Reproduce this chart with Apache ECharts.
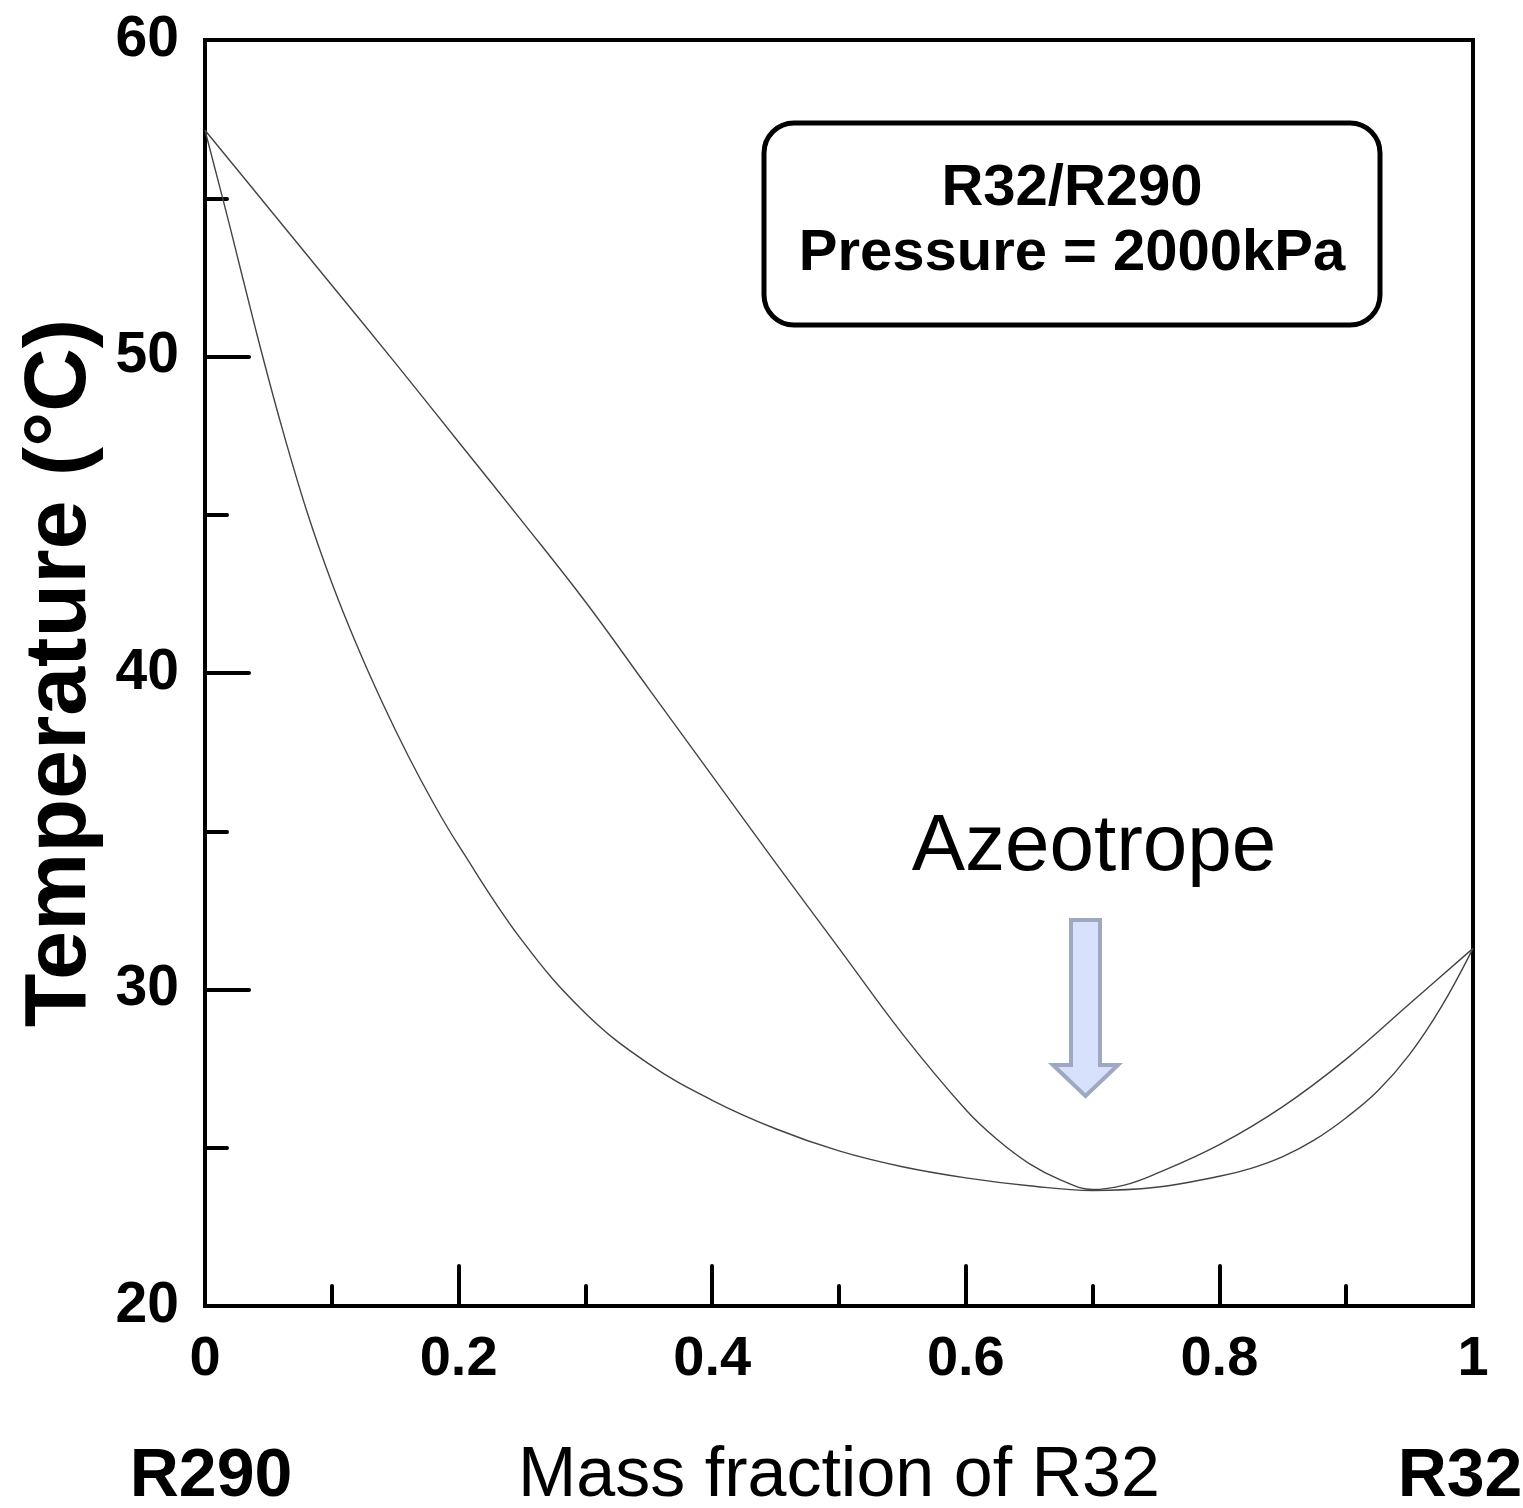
<!DOCTYPE html>
<html>
<head>
<meta charset="utf-8">
<script src="https://cdn.jsdelivr.net/npm/echarts@6/dist/echarts.min.js"></script>
<style>
  html, body { margin: 0; padding: 0; background: #fff; overflow: hidden; }
  #chart { width: 1523px; height: 1508px; }
</style>
</head>
<body>
<div id="chart"></div>
<script>
// ---- Data ----
// Dew curve (upper line): mass fraction of R32 vs temperature (°C)
const dewX = [0, 0.05, 0.1, 0.15, 0.2, 0.25, 0.3, 0.35, 0.4, 0.45, 0.5, 0.55, 0.6, 0.625, 0.65, 0.675, 0.7, 0.725, 0.75, 0.8, 0.85, 0.9, 0.95, 1.0];
const dewT = [57.15, 54.7, 52.25, 49.8, 47.3, 44.8, 42.25, 39.5, 36.75, 34.0, 31.3, 28.6, 26.2, 25.25, 24.5, 23.98, 23.68, 23.82, 24.18, 25.1, 26.3, 27.8, 29.55, 31.3];

// Bubble curve (lower line)
const bubbleX = [0, 0.02, 0.04, 0.06, 0.08, 0.1, 0.12, 0.14, 0.16, 0.18, 0.2, 0.25, 0.3, 0.35, 0.4, 0.45, 0.5, 0.55, 0.6, 0.65, 0.7, 0.75, 0.8, 0.825, 0.85, 0.875, 0.9, 0.925, 0.95, 0.975, 1.0];
const bubbleT = [57.15, 54.05, 50.85, 47.85, 45.15, 42.85, 40.85, 39.05, 37.4, 35.9, 34.55, 31.55, 29.25, 27.65, 26.5, 25.6, 24.9, 24.4, 24.05, 23.8, 23.65, 23.75, 24.1, 24.35, 24.72, 25.25, 25.95, 26.8, 27.95, 29.45, 31.3];

// Axis settings / text
const xMin = 0, xMax = 1, xStep = 0.2;
const yMin = 20, yMax = 60, yStep = 10;
const xTitle = 'Mass fraction of R32';
const yTitle = 'Temperature (°C)';
const leftEndLabel = 'R290';
const rightEndLabel = 'R32';
const boxLines = ['R32/R290', 'Pressure = 2000kPa'];
const annotationText = 'Azeotrope';

const FONT = '"Liberation Sans", Arial, Helvetica, sans-serif';

function pairs(xs, ys) { return xs.map((x, i) => [x, ys[i]]); }

const chart = echarts.init(document.getElementById('chart'), null, { renderer: 'canvas' });

const option = {
  backgroundColor: '#ffffff',
  animation: false,
  grid: {
    left: 205, right: 50, top: 40, bottom: 202,
    outerBoundsMode: 'none', containLabel: false,
    show: true, borderColor: '#000', borderWidth: 4, backgroundColor: 'transparent'
  },
  xAxis: {
    type: 'value', min: xMin, max: xMax, interval: xStep,
    name: xTitle, nameLocation: 'middle', nameGap: 136,
    nameTextStyle: { fontFamily: FONT, fontSize: 70, color: '#000', fontWeight: 'normal' },
    axisLine: { show: true, lineStyle: { color: '#000', width: 4 } },
    axisTick: { show: true, inside: true, length: 40, lineStyle: { color: '#000', width: 4, cap: 'round' } },
    minorTick: { show: true, splitNumber: 2, length: 20, lineStyle: { color: '#000', width: 4, cap: 'round' } },
    splitLine: { show: false },
    axisLabel: { fontFamily: FONT, fontSize: 56, fontWeight: 'bold', color: '#000', margin: 26,
      formatter: v => (v === 0 ? '0' : v === 1 ? '1' : String(Math.round(v * 10) / 10)) }
  },
  yAxis: {
    type: 'value', min: yMin, max: yMax, interval: yStep,
    name: yTitle, nameLocation: 'middle', nameGap: 97, nameRotate: 90,
    nameTextStyle: { fontFamily: FONT, fontSize: 88, color: '#000', fontWeight: 'bold' },
    axisLine: { show: true, lineStyle: { color: '#000', width: 4 } },
    axisTick: { show: true, inside: true, length: 44, lineStyle: { color: '#000', width: 4, cap: 'round' } },
    minorTick: { show: true, splitNumber: 2, length: 22, lineStyle: { color: '#000', width: 4, cap: 'round' } },
    splitLine: { show: false },
    axisLabel: { fontFamily: FONT, fontSize: 57, fontWeight: 'bold', color: '#000', margin: 26 }
  },
  series: [
    {
      name: 'Dew', type: 'line', data: pairs(dewX, dewT),
      smooth: 0.4, showSymbol: false, symbol: 'none',
      lineStyle: { color: '#444', width: 1.4 }, z: 3
    },
    {
      name: 'Bubble', type: 'line', data: pairs(bubbleX, bubbleT),
      smooth: 0.4, showSymbol: false, symbol: 'none',
      lineStyle: { color: '#444', width: 1.4 }, z: 3
    }
  ],
  graphic: [
    {
      type: 'rect', z: 10,
      shape: { x: 764, y: 123, width: 616, height: 202, r: 30 },
      style: { fill: '#fff', stroke: '#000', lineWidth: 5 }
    },
    {
      type: 'text', z: 11, x: 1072, y: 189,
      style: { text: boxLines[0], font: 'bold 58px ' + FONT, fill: '#000', textAlign: 'center', textVerticalAlign: 'middle' }
    },
    {
      type: 'text', z: 11, x: 1072, y: 254,
      style: { text: boxLines[1], font: 'bold 58px ' + FONT, fill: '#000', textAlign: 'center', textVerticalAlign: 'middle' }
    },
    {
      type: 'text', z: 11, x: 1094, y: 848,
      style: { text: annotationText, font: 'normal 80px ' + FONT, fill: '#000', textAlign: 'center', textVerticalAlign: 'middle' }
    },
    {
      type: 'polygon', z: 11,
      shape: { points: [[1071, 920], [1100, 920], [1100, 1065], [1118, 1065], [1085.5, 1096], [1053, 1065], [1071, 1065]] },
      style: { fill: '#d7e1fc', stroke: '#9fa8c1', lineWidth: 4, lineJoin: 'miter' }
    },
    {
      type: 'text', z: 11, x: 211, y: 1477,
      style: { text: leftEndLabel, font: 'bold 68px ' + FONT, fill: '#000', textAlign: 'center', textVerticalAlign: 'middle' }
    },
    {
      type: 'text', z: 11, x: 1460, y: 1477,
      style: { text: rightEndLabel, font: 'bold 68px ' + FONT, fill: '#000', textAlign: 'center', textVerticalAlign: 'middle' }
    }
  ]
};

chart.setOption(option);
</script>
</body>
</html>
